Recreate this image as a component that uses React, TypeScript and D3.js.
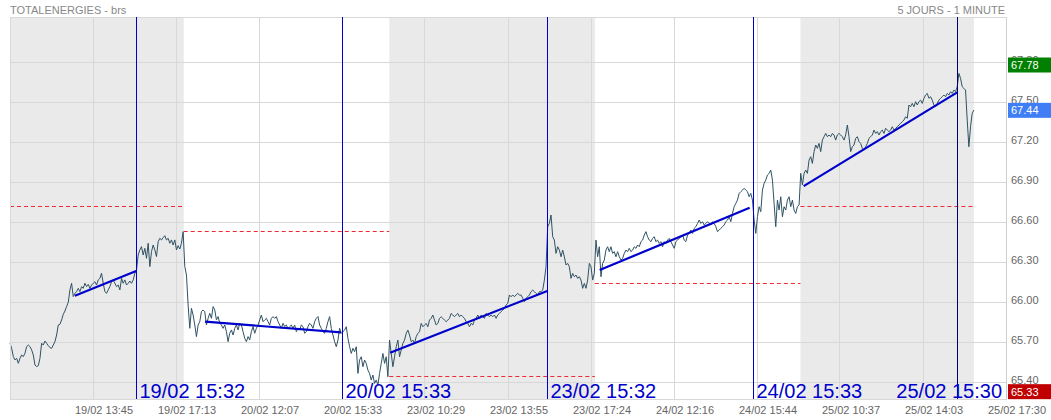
import React from "react";
import * as d3 from "d3";

const W = 1051;
const H = 420;
const PLOT = { left: 10, right: 1006, top: 17, bottom: 399 };

const title = "TOTALENERGIES - brs";
const subtitle = "5 JOURS - 1 MINUTE";
const days = ["19/02", "20/02", "23/02", "24/02", "25/02"];
const sessionOpen = "09:00";
const sessionClose = "17:30";
const firstBarTime = "10:19";
const sampleMinutes = 4.13;

const xTickLabels = [
  "19/02 13:45", "19/02 17:13", "20/02 12:07", "20/02 15:33", "23/02 10:29", "23/02 13:55",
  "23/02 17:24", "24/02 12:16", "24/02 15:44", "25/02 10:37", "25/02 14:03", "25/02 17:30",
];
const yTicks = [65.4, 65.7, 66.0, 66.3, 66.6, 66.9, 67.2, 67.5, 67.8];
const yDomain = [65.275, 68.14];

const prices = [
  65.693, 65.655, 65.593, 65.568, 65.58, 65.543, 65.58, 65.605, 65.593, 65.618,
  65.668, 65.68, 65.668, 65.643, 65.605, 65.53, 65.518, 65.525, 65.58, 65.693,
  65.68, 65.71, 65.693, 65.675, 65.66, 65.655, 65.68, 65.705, 65.755, 65.83,
  65.835, 65.868, 65.91, 65.935, 65.968, 66.0, 66.093, 66.143, 66.043, 66.068,
  66.08, 66.105, 66.08, 66.118, 66.105, 66.143, 66.118, 66.135, 66.105, 66.13,
  66.143, 66.155, 66.13, 66.168, 66.18, 66.218, 66.143, 66.08, 66.068, 66.093,
  66.118, 66.155, 66.168, 66.143, 66.118, 66.13, 66.093, 66.18, 66.143, 66.168,
  66.13, 66.143, 66.16, 66.143, 66.168, 66.218, 66.243, 66.355, 66.393, 66.418,
  66.355, 66.405, 66.33, 66.443, 66.268, 66.38, 66.43, 66.393, 66.343, 66.455,
  66.48, 66.468, 66.485, 66.5, 66.468, 66.48, 66.443, 66.468, 66.43, 66.468,
  66.393, 66.425, 66.4, 66.443, 66.53, 66.268, 66.205, 65.98, 65.805, 65.955,
  65.905, 65.83, 65.743, 65.83, 65.855, 65.93, 65.943, 65.93, 65.83, 65.88,
  65.918, 65.88, 65.968, 65.943, 65.868, 65.893, 65.843, 65.83, 65.805, 65.83,
  65.78, 65.705, 65.768, 65.793, 65.755, 65.805, 65.83, 65.793, 65.843, 65.83,
  65.78, 65.73, 65.705, 65.743, 65.718, 65.78, 65.818, 65.768, 65.805, 65.83,
  65.868, 65.905, 65.855, 65.868, 65.88, 65.855, 65.83, 65.88, 65.893, 65.88,
  65.893, 65.855, 65.83, 65.805, 65.843, 65.818, 65.83, 65.805, 65.818, 65.83,
  65.805, 65.83, 65.78, 65.805, 65.793, 65.83, 65.818, 65.768, 65.78, 65.818,
  65.843, 65.83, 65.805, 65.855, 65.88, 65.893, 65.83, 65.805, 65.78, 65.768,
  65.805, 65.855, 65.893, 65.805, 65.755, 65.705,
  65.667, 65.717, 65.805, 65.767, 65.78, 65.792, 65.817, 65.73, 65.667, 65.617,
  65.655, 65.63, 65.667, 65.467, 65.567, 65.592, 65.517, 65.567, 65.542, 65.492,
  65.467, 65.417, 65.455, 65.392, 65.417, 65.38, 65.467, 65.542, 65.617, 65.542,
  65.592, 65.442, 65.717, 65.617, 65.517, 65.592, 65.667, 65.717, 65.592, 65.642,
  65.692, 65.717, 65.767, 65.792, 65.755, 65.705, 65.717, 65.692, 65.742, 65.767,
  65.78, 65.842, 65.817, 65.83, 65.842, 65.817, 65.867, 65.88, 65.905, 65.867,
  65.83, 65.842, 65.88, 65.892, 65.88, 65.867, 65.855, 65.867, 65.88, 65.917,
  65.905, 65.892, 65.905, 65.917, 65.892, 65.905, 65.892, 65.88, 65.855, 65.842,
  65.817, 65.842, 65.83, 65.867, 65.88, 65.905, 65.88, 65.905, 65.892, 65.88,
  65.917, 65.905, 65.892, 65.905, 65.892, 65.905, 65.88, 65.905, 65.917, 65.93,
  65.942, 65.955, 65.98, 65.992, 66.055, 66.042, 66.055, 66.042, 66.055, 66.067,
  66.055, 66.055, 66.03, 66.005, 66.03, 66.042, 66.055, 66.08, 66.092, 66.08,
  66.067, 66.055, 66.08, 66.08, 66.092, 66.167, 66.267, 66.567, 66.592, 66.655,
  66.492, 66.467, 66.367, 66.417, 66.392, 66.342, 66.392, 66.342, 66.28, 66.292,
  66.267, 66.18, 66.217, 66.192, 66.205, 66.18, 66.192, 66.167, 66.105, 66.142,
  66.105, 66.167, 66.292, 66.267, 66.167, 66.217, 66.467, 66.342, 66.417, 66.192,
  66.292, 66.317,
  66.392, 66.417, 66.38, 66.417, 66.367, 66.38, 66.342, 66.38, 66.342, 66.317,
  66.33, 66.367, 66.392, 66.38, 66.405, 66.38, 66.392, 66.417, 66.405, 66.43,
  66.417, 66.455, 66.467, 66.505, 66.53, 66.492, 66.467, 66.455, 66.48, 66.492,
  66.455, 66.467, 66.442, 66.455, 66.417, 66.455, 66.442, 66.467, 66.48, 66.455,
  66.43, 66.405, 66.455, 66.467, 66.48, 66.492, 66.505, 66.467, 66.455, 66.505,
  66.517, 66.542, 66.517, 66.555, 66.567, 66.592, 66.617, 66.592, 66.605, 66.58,
  66.592, 66.605, 66.592, 66.58, 66.605, 66.592, 66.567, 66.53, 66.542, 66.555,
  66.567, 66.58, 66.605, 66.617, 66.642, 66.605, 66.667, 66.717, 66.742, 66.767,
  66.817, 66.83, 66.842, 66.855, 66.842, 66.83, 66.792, 66.817, 66.767, 66.617,
  66.517, 66.642, 66.717, 66.68, 66.842, 66.892, 66.917, 66.955, 66.967, 66.992,
  66.917, 66.742, 66.567, 66.767, 66.692, 66.792, 66.642, 66.717, 66.692, 66.767,
  66.792, 66.717, 66.767, 66.692, 66.667, 66.717, 66.73, 66.967, 66.88, 66.967,
  66.992, 66.967, 67.067, 67.092, 67.042, 67.13, 67.18, 67.155, 67.192, 67.13,
  67.217, 67.242, 67.267, 67.242, 67.255, 67.242, 67.267, 67.255, 67.217, 67.255,
  67.267, 67.255, 67.242, 67.217, 67.255, 67.33, 67.242, 67.13, 67.167, 67.18,
  67.23, 67.242, 67.205, 67.192, 67.155, 67.142, 67.167, 67.192, 67.23, 67.242,
  67.255, 67.292, 67.267, 67.28, 67.255, 67.28, 67.292, 67.267, 67.305, 67.292,
  67.28, 67.292, 67.317, 67.292, 67.305, 67.317, 67.33, 67.342, 67.355, 67.367,
  67.392, 67.38, 67.48, 67.467, 67.492, 67.467, 67.505, 67.48, 67.505, 67.517,
  67.492, 67.53, 67.555, 67.567, 67.53, 67.542, 67.517, 67.48, 67.467, 67.492,
  67.517, 67.53, 67.542, 67.555, 67.542, 67.567, 67.555, 67.58, 67.567, 67.592,
  67.58, 67.617, 67.717, 67.68, 67.617, 67.605, 67.592, 67.367, 67.167, 67.317,
  67.417, 67.442,
];

const eventDays = [0, 1, 2, 3, 4];
const eventTimes = ["15:32", "15:33", "15:32", "15:33", "15:30"];

const refLevels = [66.72, 66.535, 65.447, 66.142, 66.72];

const trendDays = [0, 1, 2, 3, 4];
const trendStartTimes = ["13:00", "09:53", "09:02", "09:12", "09:08"];
const trendStartPrices = [66.05, 65.855, 65.622, 66.242, 66.872];
const trendEndTimes = ["15:32", "15:30", "15:32", "15:24", "15:30"];
const trendEndPrices = [66.235, 65.775, 66.085, 66.71, 67.577];

const highPrice = 67.78;
const lastPrice = 67.44;
const lowPrice = 65.33;

const FONT = "'Liberation Sans', Arial, Helvetica, sans-serif";

const toMin = (s: string) => {
  const [h, m] = s.split(":").map(Number);
  return h * 60 + m;
};
const sessionLen = toMin(sessionClose) - toMin(sessionOpen);
const tOf = (day: number, hm: string) => day * sessionLen + toMin(hm) - toMin(firstBarTime);

export default function App() {
  const totalMin = tOf(days.length - 1, sessionClose);
  const x = d3.scaleLinear().domain([0, totalMin]).range([PLOT.left, PLOT.right]);
  const y = d3.scaleLinear().domain(yDomain).range([PLOT.bottom, PLOT.top]);
  const lastT = (prices.length - 1) * sampleMinutes;

  const dayStart = (d: number) => (d === 0 ? 0 : tOf(d, sessionOpen));
  const dayEnd = (d: number) => (d === days.length - 1 ? lastT : tOf(d, sessionClose));

  const line = d3
    .line<number>()
    .x((_, i) => x(i * sampleMinutes))
    .y((d) => y(d));

  const nGrid = xTickLabels.length;
  const gridTimes = d3.range(0, nGrid + 1).map((i) => (i * totalMin) / nGrid);

  const cx = (v: number) => Math.floor(v) + 0.5;

  const gridColor = "#d8d8d8";
  const blue = "#0000cc";

  return (
    <svg
      width={W}
      height={H}
      viewBox={`0 0 ${W} ${H}`}
      style={{ position: "absolute", left: 0, top: 0, background: "#fff" }}
      fontFamily={FONT}
    >
      <rect x={0} y={0} width={W} height={H} fill="#fff" />
      {days.map((_, d) =>
        d % 2 === 0 ? (
          <rect
            key={"band" + d}
            x={x(dayStart(d))}
            y={PLOT.top}
            width={x(dayEnd(d)) - x(dayStart(d))}
            height={PLOT.bottom - PLOT.top}
            fill="#eaeaea"
          />
        ) : null
      )}
      {yTicks.map((v) => (
        <line key={"gy" + v} x1={PLOT.left} x2={PLOT.right} y1={cx(y(v))} y2={cx(y(v))} stroke={gridColor} />
      ))}
      {gridTimes.map((t, i) => (
        <line key={"gx" + i} x1={cx(x(t))} x2={cx(x(t))} y1={PLOT.top} y2={PLOT.bottom} stroke={gridColor} />
      ))}
      <line x1={PLOT.left} x2={PLOT.right} y1={PLOT.top + 0.5} y2={PLOT.top + 0.5} stroke={gridColor} />
      <line x1={PLOT.left} x2={PLOT.right} y1={PLOT.bottom + 0.5} y2={PLOT.bottom + 0.5} stroke={gridColor} />

      {refLevels.map((v, d) => (
        <line
          key={"ref" + d}
          x1={x(dayStart(d))}
          x2={x(dayEnd(d))}
          y1={cx(y(v))}
          y2={cx(y(v))}
          stroke="#ee2a35"
          strokeDasharray="4,3"
        />
      ))}

      <path d={line(prices) || ""} fill="none" stroke="#2f5263" strokeWidth={1} strokeLinejoin="round" />

      {trendDays.map((d, i) => (
        <line
          key={"tr" + i}
          x1={x(tOf(d, trendStartTimes[i]))}
          y1={y(trendStartPrices[i])}
          x2={x(tOf(d, trendEndTimes[i]))}
          y2={y(trendEndPrices[i])}
          stroke={blue}
          strokeWidth={2.2}
        />
      ))}

      {eventDays.map((d, i) => {
        const xv = cx(x(tOf(d, eventTimes[i])));
        const isLast = i === eventDays.length - 1;
        const label = `${days[d]} ${eventTimes[i]}`;
        const fits = xv + 3 + 106 < PLOT.right - 3;
        return (
          <g key={"ev" + i}>
            <line x1={xv} x2={xv} y1={PLOT.top} y2={PLOT.bottom} stroke={isLast ? "#000070" : blue} />
            <text
              x={fits ? xv + 3 : PLOT.right - 4}
              y={PLOT.bottom - 1}
              textAnchor={fits ? "start" : "end"}
              fontSize={20}
              fill={blue}
            >
              {label}
            </text>
          </g>
        );
      })}

      <line x1={PLOT.right + 0.5} x2={PLOT.right + 0.5} y1={PLOT.top} y2={PLOT.bottom + 1} stroke="#cfcfcf" />
      <line x1={PLOT.left + 0.5} x2={PLOT.left + 0.5} y1={PLOT.top} y2={PLOT.bottom + 1} stroke={gridColor} />

      {yTicks.map((v) => (
        <text key={"yl" + v} x={1011} y={y(v) + 2} fontSize={11} fill="#666">
          {v.toFixed(2)}
        </text>
      ))}

      {[
        { v: highPrice, c: "#008000" },
        { v: lastPrice, c: "#3f7ef5" },
        { v: lowPrice, c: "#c00000" },
      ].map((b) => (
        <g key={"b" + b.v}>
          <rect x={1008} y={y(b.v) - 7.5} width={43} height={15} fill={b.c} />
          <text x={1011} y={y(b.v) + 4} fontSize={11} fill="#fff">
            {b.v.toFixed(2)}
          </text>
        </g>
      ))}

      {xTickLabels.map((l, i) => (
        <text key={"xl" + i} x={x(gridTimes[i + 1]) + 11} y={414} fontSize={11} fill="#666" textAnchor="middle">
          {l}
        </text>
      ))}

      <text x={10} y={13.5} fontSize={11} fill="#888">
        {title}
      </text>
      <text x={1005} y={13.5} fontSize={11} fill="#888" textAnchor="end">
        {subtitle}
      </text>
    </svg>
  );
}
